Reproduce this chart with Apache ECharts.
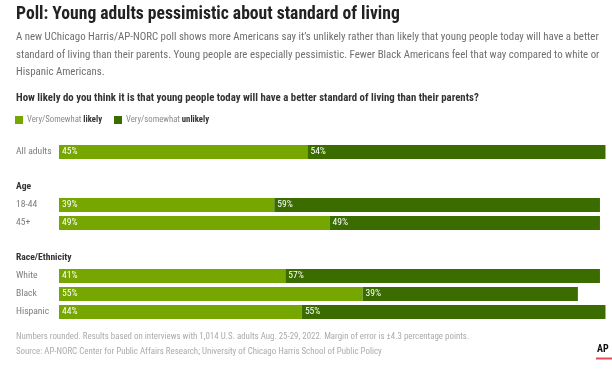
<!DOCTYPE html>
<html><head><meta charset="utf-8">
<script src="https://cdn.jsdelivr.net/npm/echarts@6/dist/echarts.min.js"></script>
<style>html,body{margin:0;padding:0;background:#fff}#c{width:612px;height:374px}</style>
</head><body><div id="c"></div>
<script>
const FONT = "'Roboto Condensed','Open Sans Condensed',sans-serif";
const seriesNames = ['Very/Somewhat likely', 'Very/somewhat unlikely'];
const catsAll = ['All adults'];
const likelyAll = [45];
const unlikelyAll = [54];
const catsAge = ['18-44', '45+'];
const likelyAge = [39, 49];
const unlikelyAge = [59, 49];
const catsRace = ['White', 'Black', 'Hispanic'];
const likelyRace = [41, 55, 44];
const unlikelyRace = [57, 39, 55];
const groupHeaders = ['Age', 'Race/Ethnicity'];

const LIGHT = '#76a600', DARK = '#3a6c00';
const chart = echarts.init(document.getElementById('c'), null, {renderer: 'canvas'});

const grids = [
  {left: 59, right: 1, top: 143, height: 18},
  {left: 59, right: 1, top: 196, height: 36},
  {left: 59, right: 1, top: 267, height: 54}
];
const cats = [catsAll, catsAge, catsRace];
const likely = [likelyAll, likelyAge, likelyRace];
const unlikely = [unlikelyAll, unlikelyAge, unlikelyRace];

const xAxis = grids.map((g, i) => ({gridIndex: i, type: 'value', min: 0, max: 100, show: false}));
const yAxis = cats.map((c, i) => ({
  gridIndex: i, type: 'category', data: c, inverse: true,
  axisLine: {show: false}, axisTick: {show: false},
  axisLabel: {align: 'left', margin: 43, color: '#7d7d7d', fontSize: 9.6, fontFamily: FONT}
}));
const label = {show: true, position: 'insideLeft', offset: [-2, 0], color: '#fff', fontSize: 9.6, fontFamily: FONT, formatter: '{c}%'};
const series = [];
for (let i = 0; i < 3; i++) {
  series.push({name: seriesNames[0], type: 'bar', stack: 's' + i, xAxisIndex: i, yAxisIndex: i, data: likely[i], barWidth: 14, itemStyle: {color: LIGHT}, label, silent: true});
  series.push({name: seriesNames[1], type: 'bar', stack: 's' + i, xAxisIndex: i, yAxisIndex: i, data: unlikely[i], barWidth: 14, itemStyle: {color: DARK}, label, silent: true});
}

const option = {
  animation: false,
  textStyle: {fontFamily: FONT},
  title: [
    {text: 'Poll: Young adults pessimistic about standard of living', left: 11, top: 1, textStyle: {fontSize: 17.6, fontWeight: 'bold', color: '#222', fontFamily: FONT}},
    {text: 'A new UChicago Harris/AP-NORC poll shows more Americans say it\u2019s unlikely rather than likely that young people today will have a better\nstandard of living than their parents. Young people are especially pessimistic. Fewer Black Americans feel that way compared to white or\nHispanic Americans.', left: 11, top: 23.5, textStyle: {fontSize: 10.85, fontWeight: 'normal', color: '#6f6f6f', lineHeight: 17.6, fontFamily: FONT}},
    {text: 'How likely do you think it is that young people today will have a better standard of living than their parents?', left: 11, top: 87.5, textStyle: {fontSize: 10.8, fontWeight: 'bold', color: '#333', fontFamily: FONT}},
    {text: groupHeaders[0], left: 11, top: 177, textStyle: {fontSize: 9.6, fontWeight: 'bold', color: '#333', fontFamily: FONT}},
    {text: groupHeaders[1], left: 11, top: 248, textStyle: {fontSize: 9.6, fontWeight: 'bold', color: '#333', fontFamily: FONT}},
    {text: 'Numbers rounded. Results based on interviews with 1,014 U.S. adults Aug. 25-29, 2022. Margin of error is \u00b14.3 percentage points.', left: 11, top: 327.5, textStyle: {fontSize: 8.9, fontWeight: 'normal', color: '#ababab', fontFamily: FONT}},
    {text: 'Source: AP-NORC Center for Public Affairs Research; University of Chicago Harris School of Public Policy', left: 11, top: 342, textStyle: {fontSize: 8.9, fontWeight: 'normal', color: '#ababab', fontFamily: FONT}}
  ],
  legend: {
    data: seriesNames, left: 10, top: 110.5, icon: 'rect', itemWidth: 8, itemHeight: 8, itemGap: 12,
    selectedMode: false,
    formatter: function (n) { const p = n.split(' '); return '{a|' + p[0] + ' }{b|' + p[1] + '}'; },
    textStyle: {padding: [0, 0, 0, -1], rich: {
      a: {fontSize: 8.7, color: '#8a8a8a', fontFamily: FONT},
      b: {fontSize: 8.7, color: '#333', fontWeight: 'bold', fontFamily: FONT}
    }}
  },
  grid: grids, xAxis, yAxis, series,
  graphic: [
    {type: 'text', left: 597, top: 344, style: {text: 'AP', font: 'bold 10px ' + FONT, fill: '#111'}},
    {type: 'rect', shape: {x: 596, y: 357.5, width: 16, height: 2}, style: {fill: '#e8485a'}}
  ]
};
chart.setOption(option);
</script></body></html>
